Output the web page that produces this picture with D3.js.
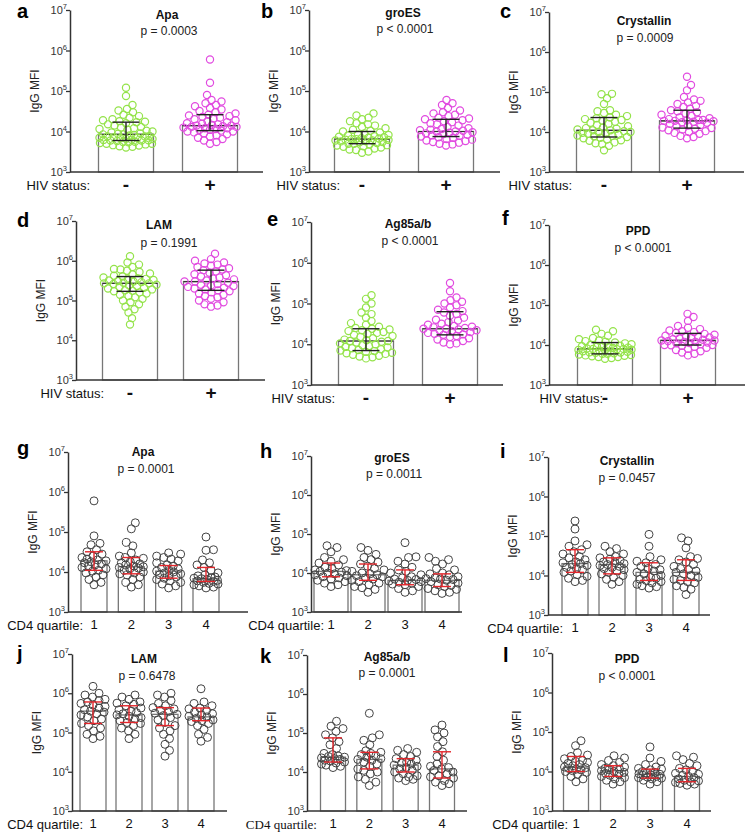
<!DOCTYPE html>
<html lang="en">
<head>
  <meta charset="UTF-8">
  <title>IgG MFI by HIV status and CD4 quartile</title>
  <style>
    body { margin: 0; background: #fff; }
    svg { display: block; font-family: "Liberation Sans", Arial, sans-serif; }
    .tick text { display: none; }
  </style>
</head>
<body>
  <svg width="747" height="833"></svg>

  <script src="https://d3js.org/d3.v7.min.js"></script>
  <script>
    // categories
    const hivCats = ["-", "+"];
    const cd4Cats = ["1", "2", "3", "4"];
    const decades = [1e3, 1e4, 1e5, 1e6, 1e7];

    // ---- HIV status panels (a-f): values, IgG MFI
    const apaNeg = [4000,4200,4300,4500,4600,4800,5000,5000,5200,5400,5500,5600,5800,6000,6000,6100,6200,6300,6500,6600,6800,7000,7000,7200,7500,7600,7800,8000,8200,8500,8500,8800,9000,9500,10000,10500,11000,11500,12000,12500,13000,14000,15000,16000,17000,17500,18000,19000,20000,22000,24000,26000,30000,33000,36000,45000,75000,120000];
    const apaPos = [5000,5500,6000,6500,7000,7500,8000,8500,9000,9500,10000,10000,10500,11000,11000,11500,12000,12000,12500,13000,13000,13500,14000,14000,14500,15000,15500,16000,17000,18000,19000,20000,21000,22000,23000,24000,25000,26000,28000,30000,32000,35000,38000,42000,45000,50000,55000,60000,80000,160000,600000];
    const groesNeg = [3000,3200,3500,3600,3800,4000,4200,4300,4500,4600,4800,5000,5000,5200,5400,5500,5700,5800,6000,6000,6200,6300,6500,6500,6700,6800,7000,7200,7400,7600,8000,8200,8500,9000,9500,10000,10500,11000,12000,13000,14000,15000,16000,18000,20000,22000,25000,28000];
    const groesPos = [4500,4800,5000,5300,5500,5800,6000,6300,6500,7000,7200,7500,7800,8000,8300,8600,9000,9300,9600,10000,10000,10400,10800,11000,11500,12000,13000,14000,15000,16000,17000,18000,19000,20000,21000,22000,24000,26000,28000,30000,33000,38000,45000,50000,60000];
    const crysNeg = [3500,4500,5000,5200,5500,6000,6200,6500,7000,7200,7500,7800,8000,8200,8500,9000,9200,9500,10000,10000,10500,11000,11000,11500,12000,12500,13000,14000,15000,16000,17000,18000,19000,20000,21000,22000,23000,25000,27000,30000,33000,35000,50000,70000,88000,90000];
    const crysPos = [7000,7500,8000,9000,9500,10000,10500,11000,11500,12000,12500,13000,14000,14500,15000,16000,17000,17500,18000,18500,19000,19000,19500,20000,20000,21000,22000,23000,25000,27000,29000,31000,33000,35000,38000,42000,45000,50000,55000,60000,65000,75000,110000,150000,240000];
    const lamNeg = [25000,36000,50000,60000,70000,80000,90000,100000,110000,120000,130000,140000,150000,160000,170000,175000,180000,190000,200000,210000,220000,230000,240000,250000,260000,270000,270000,280000,290000,300000,310000,320000,330000,340000,350000,360000,380000,400000,420000,450000,480000,520000,560000,600000,620000,700000,800000,900000,1300000];
    const lamPos = [70000,75000,80000,90000,100000,110000,120000,130000,140000,150000,160000,170000,180000,190000,200000,210000,220000,230000,240000,250000,260000,280000,300000,300000,320000,340000,360000,380000,400000,430000,460000,500000,540000,580000,600000,650000,700000,750000,800000,850000,900000,1000000,1100000,1500000];
    const ag85Neg = [4500,4800,5000,5200,5500,5800,6000,6200,6500,6800,7000,7200,7500,8000,8300,8600,9000,9500,10000,10500,11000,11500,12000,12000,12500,13000,14000,15000,16000,17000,18000,19000,20000,21000,22000,23000,24000,25000,27000,30000,33000,37000,45000,55000,60000,80000,100000,130000,160000];
    const ag85Pos = [10000,10500,11000,12000,13000,14000,15000,16000,17000,17500,18000,19000,20000,21000,22000,22000,23000,24000,24000,25000,26000,27000,28000,30000,32000,35000,38000,40000,45000,50000,55000,60000,65000,70000,80000,90000,100000,110000,120000,140000,200000,320000];
    const ppdNeg = [4500,4700,5000,5000,5200,5400,5500,5600,5800,6000,6000,6200,6400,6500,6600,6800,7000,7000,7200,7400,7500,7600,7800,8000,8000,8200,8400,8600,8800,9000,9000,9300,9600,10000,10500,11000,11500,12000,12500,13000,14000,15000,17000,19000,22000,24000];
    const ppdPos = [5500,6000,6500,7000,7500,8000,8500,9000,9500,9800,10000,10000,10500,11000,11200,11500,12000,12000,12500,13000,13000,13500,14000,14500,15000,15500,16000,16500,17000,18000,19000,20000,21000,22000,23000,25000,27000,30000,40000,50000,60000];

    const apaHivStats = [[8500, 6000, 17000], [14000, 10500, 26000]];
    const groesHivStats = [[6500, 5000, 10000], [10000, 7500, 20000]];
    const crysHivStats = [[11000, 7500, 23000], [19000, 12500, 35000]];
    const lamHivStats = [[270000, 170000, 400000], [300000, 180000, 580000]];
    const ag85HivStats = [[12000, 7000, 24000], [24000, 17000, 63000]];
    const ppdHivStats = [[8000, 6000, 11500], [13000, 10000, 19500]];

    // ---- CD4 quartile panels (g-l)
    const apaCd4 = [
      [4800,5500,6500,7500,8500,9500,10500,11000,12000,13000,14000,15000,16000,17000,18000,19000,20000,21000,23000,25000,28000,32000,36000,48000,52000,80000,600000],
      [4200,4800,5500,6500,7500,8500,9000,9500,10000,11000,12000,12500,13000,13500,14000,15000,16000,17000,18000,20000,22000,23000,25000,30000,45000,55000,120000,170000],
      [4000,4500,5000,5500,6000,6500,7000,7500,8000,8500,9000,9500,10000,10500,11000,12000,13000,14000,15000,17000,19000,21000,23000,25000,28000,30000],
      [4000,4200,4500,4800,5000,5200,5500,5800,6000,6200,6500,6800,7000,7200,7500,8000,8500,9500,11000,13000,15000,17000,20000,35000,36000,75000]
    ];
    const groesCd4 = [
      [4500,5000,5500,6000,6500,7000,7500,8000,8500,9000,9500,10000,10500,11000,11500,12000,13000,14000,16000,18000,20000,22000,25000,35000,45000,50000],
      [3200,3800,4200,4500,5000,5500,6000,6500,7000,7500,8000,8500,9000,9500,10000,11000,12000,13000,15000,17000,19000,22000,25000,30000,38000,45000],
      [3200,3500,4000,4500,5000,5200,5500,5800,6000,6200,6500,6800,7000,7500,8000,9000,10000,11000,12000,14000,17000,20000,25000,26000,60000],
      [3000,3200,3500,3800,4000,4500,4800,5000,5500,6000,6500,6800,7000,7200,7500,8000,9000,9500,10000,12000,13000,17000,20000,22000,25000]
    ];
    const crysCd4 = [
      [7000,7500,8500,9500,10500,12000,13000,14000,15000,16000,18000,19000,20000,21000,22000,25000,28000,30000,35000,40000,45000,55000,60000,75000,150000,240000],
      [6000,7000,8000,9000,10000,11000,12000,13000,14000,15000,16000,17000,18000,19000,20000,21000,22000,24000,26000,28000,30000,35000,40000,48000,55000],
      [4800,5200,5500,6000,6500,7000,7500,8000,8500,9000,10000,11000,12000,13000,14000,15000,17000,19000,21000,23000,25000,30000,55000,110000],
      [3300,4500,5000,5500,6500,7000,7500,8000,9000,10000,11000,12000,13000,14000,15000,17000,19000,22000,25000,27000,30000,50000,75000,90000]
    ];
    const lamCd4 = [
      [70000,80000,90000,110000,130000,150000,170000,200000,220000,250000,280000,300000,330000,350000,380000,420000,460000,500000,550000,600000,650000,700000,800000,900000,1000000,1500000],
      [70000,90000,110000,130000,150000,170000,180000,200000,220000,240000,260000,280000,300000,320000,350000,380000,420000,480000,520000,560000,600000,700000,800000,900000],
      [25000,35000,50000,70000,90000,110000,130000,150000,180000,210000,240000,270000,290000,310000,340000,370000,400000,430000,480000,550000,650000,800000,900000,1000000],
      [60000,75000,90000,120000,150000,170000,190000,200000,210000,230000,250000,260000,280000,300000,330000,360000,400000,420000,480000,550000,600000,1300000]
    ];
    const ag85Cd4 = [
      [13000,14000,15000,16000,17000,18000,19000,20000,21000,22000,23000,24000,25000,26000,28000,30000,40000,50000,60000,75000,90000,110000,130000,150000,200000],
      [4500,5500,6500,7500,9000,10000,11000,12000,14000,16000,18000,20000,21000,22000,24000,26000,28000,30000,32000,35000,50000,65000,75000,90000,320000],
      [6000,6500,7000,7500,8000,9000,10000,11000,12000,13000,14000,15000,16000,17000,18000,20000,22000,25000,28000,32000,36000,40000],
      [4500,5000,5500,6000,7000,7500,8000,9000,10000,11000,12000,13000,14000,16000,20000,25000,33000,45000,60000,80000,100000,120000,160000]
    ];
    const ppdCd4 = [
      [5500,6500,7500,8500,9500,10000,10500,11000,11500,12000,12500,13000,14000,15000,16000,17000,18000,19000,21000,24000,26000,30000,45000,60000],
      [4800,5500,6000,6500,7000,7500,8000,8500,9000,9500,10000,10500,11000,11500,12000,13000,14000,15000,17000,19000,22000,25000],
      [4800,5500,6000,6500,6800,7000,7200,7500,8000,8200,8500,8800,9000,9500,10000,11000,11500,12000,13000,15000,18000,22000,42000],
      [4500,4800,5000,5300,5500,5800,6000,6500,7000,7500,8000,8500,9000,10000,11000,12000,14000,16000,20000,23000,25000]
    ];

    const apaCd4Stats = [[19000,11000,32000],[13500,9000,23000],[10500,7000,14500],[6800,5800,13000]];
    const groesCd4Stats = [[11000,8000,18000],[9000,6500,17000],[6500,5000,12000],[6500,4500,9500]];
    const crysCd4Stats = [[20000,12000,45000],[19000,11000,28000],[12000,7500,21000],[12000,7500,25000]];
    const lamCd4Stats = [[350000,170000,600000],[280000,180000,480000],[290000,150000,430000],[250000,200000,420000]];
    const ag85Cd4Stats = [[24000,18000,75000],[21000,12000,32000],[15000,10000,22000],[12000,7000,33000]];
    const ppdCd4Stats = [[13000,10000,24000],[10500,7500,14000],[8500,6800,11500],[7500,5500,12000]];

    const titles = ["Apa", "groES", "Crystallin", "LAM", "Ag85a/b", "PPD"];
    const hivP = ["p = 0.0003", "p < 0.0001", "p = 0.0009", "p = 0.1991", "p < 0.0001", "p < 0.0001"];
    const cd4P = ["p = 0.0001", "p = 0.0011", "p = 0.0457", "p = 0.6478", "p = 0.0001", "p < 0.0001"];

    const hivGroups = [[apaNeg, apaPos], [groesNeg, groesPos], [crysNeg, crysPos], [lamNeg, lamPos], [ag85Neg, ag85Pos], [ppdNeg, ppdPos]];
    const hivStats = [apaHivStats, groesHivStats, crysHivStats, lamHivStats, ag85HivStats, ppdHivStats];
    const cd4Groups = [apaCd4, groesCd4, crysCd4, lamCd4, ag85Cd4, ppdCd4];
    const cd4Stats = [apaCd4Stats, groesCd4Stats, crysCd4Stats, lamCd4Stats, ag85Cd4Stats, ppdCd4Stats];

    // layout of each panel (pixels)
    const layout = [
      {id:"a", lx:17, ly:18, x0:70,  xEnd:263, c1:126, cN:210, barW:55, yTop:10,  yBot:172, tx:167, ty:19,  px:169, py:35,  catX:90},
      {id:"b", lx:261, ly:18, x0:309, xEnd:500, c1:362, cN:446, barW:55, yTop:10,  yBot:172, tx:403, ty:17,  px:405, py:33,  catX:340},
      {id:"c", lx:500, ly:18, x0:549, xEnd:744, c1:604, cN:687, barW:55, yTop:12,  yBot:172, tx:644, ty:25,  px:645, py:42,  catX:572},
      {id:"d", lx:17, ly:227, x0:76,  xEnd:265, c1:130, cN:211, barW:55, yTop:221, yBot:380, tx:159, ty:229, px:169, py:247, catX:104},
      {id:"e", lx:267, ly:226, x0:311, xEnd:503, c1:366, cN:450, barW:55, yTop:222, yBot:385, tx:408, ty:228, px:410, py:245, catX:335},
      {id:"f", lx:502, ly:225, x0:549, xEnd:745, c1:605, cN:688, barW:55, yTop:225, yBot:385, tx:638, ty:235, px:643, py:252, catX:603},
      {id:"g", lx:17, ly:455, x0:68,  xEnd:248, c1:94,  cN:206, barW:26, yTop:452, yBot:612, tx:143, ty:456, px:146, py:473, catX:83},
      {id:"h", lx:260, ly:458, x0:311, xEnd:462, c1:331, cN:442, barW:34, yTop:456, yBot:612, tx:392, ty:462, px:394, py:478, catX:324},
      {id:"i", lx:500, ly:458, x0:548, xEnd:710, c1:575, cN:686, barW:26, yTop:457, yBot:615, tx:627, ty:465, px:627, py:482, catX:563},
      {id:"j", lx:17, ly:660, x0:72,  xEnd:227, c1:93,  cN:201, barW:26, yTop:654, yBot:811, tx:144, ty:663, px:147, py:680, catX:83},
      {id:"k", lx:260, ly:663, x0:307, xEnd:467, c1:333, cN:442, barW:25, yTop:655, yBot:811, tx:387, ty:661, px:387, py:677, catX:317, serif:true},
      {id:"l", lx:503, ly:662, x0:552, xEnd:711, c1:576, cN:687, barW:25, yTop:653, yBot:811, tx:627, ty:663, px:627, py:680, catX:568}
    ];

    const svg = d3.select("svg");

    layout.forEach((L, n) => {
      const hiv = n < 6;
      const k = n % 6;
      drawPanel(L, {
        title: titles[k],
        p: hiv ? hivP[k] : cd4P[k],
        cats: hiv ? hivCats : cd4Cats,
        groups: hiv ? hivGroups[k] : cd4Groups[k],
        stats: hiv ? hivStats[k] : cd4Stats[k],
        hiv: hiv
      });
    });

    function drawPanel(L, P) {
      const g = svg.append("g");
      const y = d3.scaleLog().domain([1e3, 1e7]).range([L.yBot, L.yTop]);
      const x = d3.scalePoint().domain(P.cats).range([L.c1, L.cN]);
      const r = P.hiv ? 3.6 : 4;
      const capW = P.hiv ? 27 : 18;
      const errColor = P.hiv ? "#222" : "#e3262b";
      const ptColors = P.hiv ? ["#94e34a", "#e14be0"] : ["#444", "#444", "#444", "#444"];

      // bars at the median
      g.selectAll("rect.bar").data(P.stats).join("rect")
        .attr("class", "bar")
        .attr("x", (d, i) => x(P.cats[i]) - L.barW / 2)
        .attr("y", d => y(d[0]))
        .attr("width", L.barW)
        .attr("height", d => L.yBot - y(d[0]))
        .attr("fill", "#fff")
        .attr("stroke", "#777")
        .attr("stroke-width", 1.3);

      if (P.hiv) {
        g.selectAll("line.med").data(P.stats).join("line")
          .attr("x1", (d, i) => x(P.cats[i]) - L.barW / 2)
          .attr("x2", (d, i) => x(P.cats[i]) + L.barW / 2)
          .attr("y1", d => y(d[0])).attr("y2", d => y(d[0]))
          .attr("stroke", "#333").attr("stroke-width", 1.2);
      }

      // scatter
      P.groups.forEach((vals, i) => {
        const pts = swarm(vals, x(P.cats[i]), y, r, L.barW / 2 - 1);
        g.append("g").selectAll("circle").data(pts).join("circle")
          .attr("cx", d => d.x)
          .attr("cy", d => d.y)
          .attr("r", r)
          .attr("fill", "none")
          .attr("stroke", ptColors[i])
          .attr("stroke-width", P.hiv ? 1.2 : 1);
      });

      // interquartile range
      const eb = g.selectAll("g.eb").data(P.stats).join("g")
        .attr("stroke", errColor).attr("stroke-width", 1.4);
      eb.append("line")
        .attr("x1", (d, i) => x(P.cats[i])).attr("x2", (d, i) => x(P.cats[i]))
        .attr("y1", d => y(d[1])).attr("y2", d => y(d[2]));
      [1, 2].forEach(j => {
        eb.append("line")
          .attr("x1", (d, i) => x(P.cats[i]) - capW / 2)
          .attr("x2", (d, i) => x(P.cats[i]) + capW / 2)
          .attr("y1", d => y(d[j])).attr("y2", d => y(d[j]));
      });

      // y axis
      const ax = g.append("g")
        .attr("transform", `translate(${L.x0},0)`)
        .call(d3.axisLeft(y).tickValues(decades).tickSize(4).tickSizeOuter(0).tickFormat(""));
      ax.select(".domain").attr("stroke", "#333").attr("stroke-width", 1.5);
      ax.selectAll(".tick line").attr("stroke", "#333").attr("stroke-width", 1.3);

      const lab = g.selectAll("text.ytl").data(decades).join("text")
        .attr("class", "ytl")
        .attr("x", L.x0 - 3)
        .attr("y", d => y(d) + 4)
        .attr("text-anchor", "end")
        .attr("font-size", 11)
        .attr("fill", "#333");
      lab.append("tspan").text("10");
      lab.append("tspan").attr("dy", -5).attr("font-size", 7.5).text(d => Math.round(Math.log10(d)));

      // x axis line
      g.append("line")
        .attr("x1", L.x0).attr("x2", L.xEnd)
        .attr("y1", L.yBot).attr("y2", L.yBot)
        .attr("stroke", "#333").attr("stroke-width", 1.5);

      // category labels
      g.selectAll("text.cat").data(P.cats).join("text")
        .attr("x", d => x(d))
        .attr("y", L.yBot + (P.hiv ? 19 : 17))
        .attr("text-anchor", "middle")
        .attr("font-size", P.hiv ? 19 : 13)
        .attr("font-weight", P.hiv ? "bold" : "normal")
        .attr("fill", "#111")
        .text(d => d);

      g.append("text")
        .attr("x", L.catX)
        .attr("y", L.yBot + 18)
        .attr("text-anchor", "end")
        .attr("font-size", 13)
        .attr("font-family", L.serif ? "'Liberation Serif', 'Times New Roman', serif" : null)
        .attr("fill", "#111")
        .text(P.hiv ? "HIV status:" : "CD4 quartile:");

      // y title
      g.append("text")
        .attr("transform", `translate(${L.x0 - 31},${(L.yTop + L.yBot) / 2}) rotate(-90)`)
        .attr("text-anchor", "middle")
        .attr("font-size", 12)
        .attr("fill", "#222")
        .text("IgG MFI");

      // titles
      g.append("text")
        .attr("x", L.tx).attr("y", L.ty)
        .attr("text-anchor", "middle")
        .attr("font-size", 12).attr("font-weight", "bold")
        .attr("fill", "#111")
        .text(P.title);
      g.append("text")
        .attr("x", L.px).attr("y", L.py)
        .attr("text-anchor", "middle")
        .attr("font-size", 12)
        .attr("fill", "#222")
        .text(P.p);

      // panel letter
      g.append("text")
        .attr("x", L.lx).attr("y", L.ly)
        .attr("font-size", 20).attr("font-weight", "bold")
        .attr("fill", "#000")
        .text(L.id);
    }

    // simple beeswarm: nearest free slot to the centre, overlap allowed when full
    function swarm(vals, cx, y, r, maxHalf) {
      const placed = [];
      const minD = 2 * r * 0.9;
      vals.slice().sort((a, b) => a - b).forEach(v => {
        const py = y(v);
        let best = 0, bestScore = -1;
        for (let s = 0; s <= maxHalf * 4; s++) {
          const off = (s % 2 ? 1 : -1) * Math.ceil(s / 2) * 0.5;
          if (Math.abs(off) > maxHalf) continue;
          let m = Infinity;
          for (const q of placed) {
            const dy = q.y - py;
            if (Math.abs(dy) >= minD) continue;
            m = Math.min(m, Math.hypot(q.x - (cx + off), dy));
          }
          if (m >= minD) { best = off; bestScore = Infinity; break; }
          if (m > bestScore) { bestScore = m; best = off; }
        }
        placed.push({ x: cx + best, y: py, v: v });
      });
      return placed;
    }
  </script>
</body>
</html>
